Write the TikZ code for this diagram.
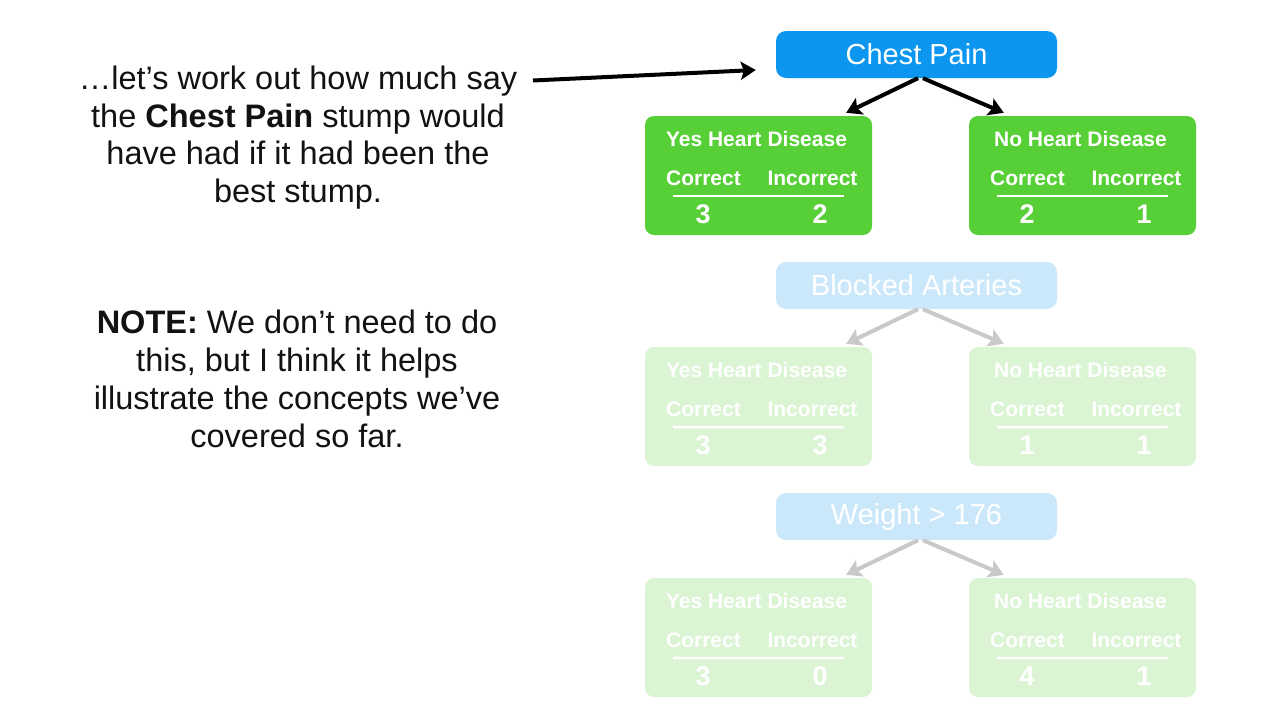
\documentclass[tikz,border=0pt]{standalone}
\usepackage{fontspec}
\setmainfont{Liberation Sans}
\usetikzlibrary{arrows.meta}

\definecolor{stumpblue}{RGB}{12,150,240}
\definecolor{leafgreen}{RGB}{87,207,55}
\definecolor{inkblack}{RGB}{18,18,18}

\tikzset{
  rootbox/.style={fill=stumpblue, rounded corners=10pt, minimum width=281pt,
    minimum height=47pt, inner sep=0pt, text=white,
    font=\fontsize{29}{33}\selectfont},
  leafbox/.style={fill=leafgreen, rounded corners=9pt, minimum width=227pt,
    minimum height=119pt, inner sep=0pt},
  leaftitle/.style={text=white, inner sep=0pt, font=\fontsize{21}{25}\selectfont\bfseries},
  leaftext/.style={text=white, inner sep=0pt, font=\fontsize{21}{25}\selectfont\bfseries},
  leafnum/.style={text=white, inner sep=0pt, font=\fontsize{27}{31}\selectfont\bfseries},
  leafrule/.style={draw=white, line width=2.5pt},
  treearrow/.style={draw=black, line width=4pt,
    -{Stealth[length=15pt,width=18pt,inset=3pt]}},
  faded/.style={transparency group, opacity=0.21},
  bodytext/.style={text=inkblack, align=center, inner sep=0pt,
    font=\fontsize{32.5}{37.8}\selectfont},
}

% one leaf: title, column heads, rule and the two counts
\newcommand\leafcontents[4]{%
  \node[leaftitle] (#1title) at ([shift={(-2,-36.5)}]#1.center) {#2};
  \node[leaftext] (#1corr) at ([shift={(-55,2.5)}]#1.center) {Correct};
  \node[leaftext] (#1inc) at ([shift={(54,2.5)}]#1.center) {Incorrect};
  \coordinate (#1ruleA) at ([shift={(-85.5,20.5)}]#1.center);
  \coordinate (#1ruleB) at ([shift={(85,20.5)}]#1.center);
  \draw[leafrule] (#1ruleA) -- (#1ruleB);
  \node[leafnum] (#1a) at ([shift={(-55.5,38.5)}]#1.center) {#3};
  \node[leafnum] (#1b) at ([shift={(61.5,38.5)}]#1.center) {#4};
}

% a whole stump: #1 name prefix, #2 vertical offset, #3 root label, #4-#7 counts
\newcommand\stumpset[7]{%
  \node[rootbox] (#1root) at (916.5,{54.5+#2}) {#3};
  \node[leafbox] (#1L) at (758.5,{175.5+#2}) {};
  \node[leafbox] (#1R) at (1082.5,{175.5+#2}) {};
  \leafcontents{#1L}{Yes Heart Disease}{#4}{#5}
  \leafcontents{#1R}{No Heart Disease}{#6}{#7}
  \draw[treearrow] ([xshift=1.5]#1root.south) -- ([shift={(-26,-3)}]#1L.north east);
  \draw[treearrow] ([xshift=6.5]#1root.south) -- ([shift={(35,-3)}]#1R.north west);
}

\begin{document}
\begin{tikzpicture}[x=1pt,y=-1pt]
  \useasboundingbox[fill=white] (0,0) rectangle (1280,720);

  % highlighted stump
  \stumpset{cp}{0}{Chest Pain}{3}{2}{2}{1}

  % the other two stumps, greyed out
  \begin{scope}[faded]
    \stumpset{ba}{231}{Blocked Arteries}{3}{3}{1}{1}
  \end{scope}
  \begin{scope}[faded]
    \stumpset{wt}{462}{Weight > 176}{3}{0}{4}{1}
  \end{scope}

  % explanatory text
  \node[bodytext] (intro) at (298,137.5)
    {…let’s work out how much say\\
     the \textbf{Chest Pain} stump would\\
     have had if it had been the\\
     best stump.};
  \node[bodytext] (note) at (297,379)
    {\textbf{NOTE:} We don’t need to do\\
     this, but I think it helps\\
     illustrate the concepts we’ve\\
     covered so far.};

  \coordinate (pointer) at (533,80.5);
  \draw[treearrow] (pointer) -- ([shift={(-20,15.5)}]cproot.west);
\end{tikzpicture}
\end{document}
